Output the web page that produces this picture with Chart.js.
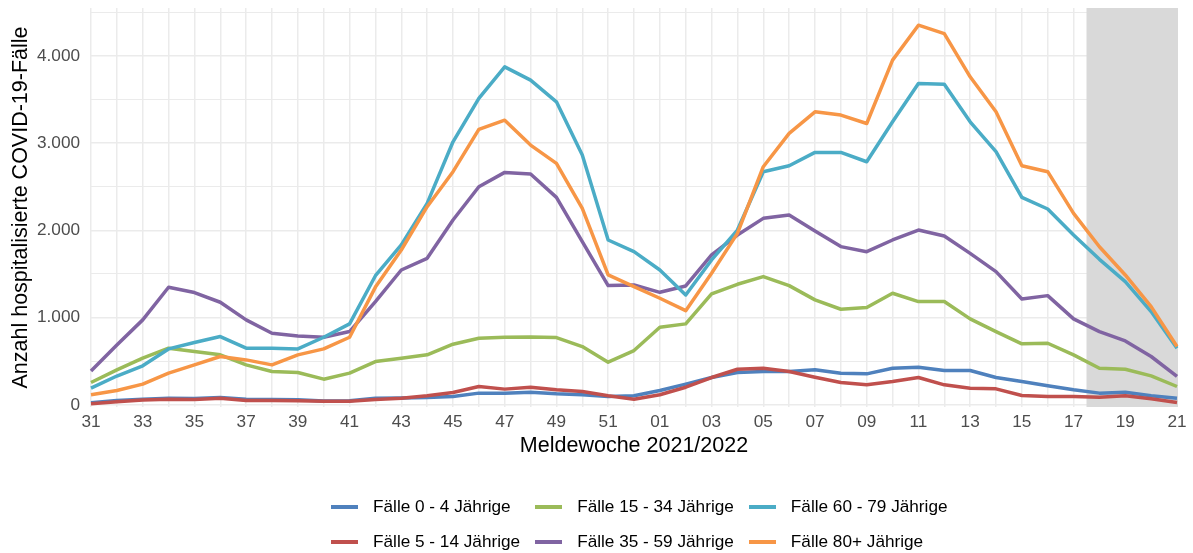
<!DOCTYPE html>
<html lang="de">
<head>
<meta charset="utf-8">
<script src="https://cdn.jsdelivr.net/npm/chart.js@4/dist/chart.umd.min.js"></script>
<style>
  html, body { margin: 0; padding: 0; background: #ffffff; }
  #wrap { position: relative; width: 1193px; height: 553px; overflow: hidden; }
  #c { position: absolute; left: 0; top: 0; }
  #legend {
    position: absolute; left: 331px; top: 489px;
    display: grid; grid-template-columns: auto auto auto; column-gap: 15px;
    font-family: "Liberation Sans", Arial, sans-serif; font-size: 17.2px; color: #000;
  }
  .item { display: flex; align-items: center; height: 35px; white-space: nowrap; }
  .sw { width: 27px; height: 4px; margin-right: 15px; flex: none; }
</style>
</head>
<body>
<div id="wrap">
  <canvas id="c" width="1193" height="553"></canvas>
  <div id="legend"></div>
</div>
<script>
// ---- data ----
const weeks = ['31','32','33','34','35','36','37','38','39','40','41','42','43','44','45','46','47','48','49','50','51','52',
               '01','02','03','04','05','06','07','08','09','10','11','12','13','14','15','16','17','18','19','20','21'];

const seriesNames = ['Fälle 0 - 4 Jährige','Fälle 5 - 14 Jährige','Fälle 15 - 34 Jährige',
                     'Fälle 35 - 59 Jährige','Fälle 60 - 79 Jährige','Fälle 80+ Jährige'];

const faelle0_4 = [25,50,65,75,72,85,65,60,58,45,48,75,78,84,95,134,134,145,126,115,95,103,
                   164,237,313,370,382,382,401,363,355,420,431,393,393,313,267,218,172,134,145,103,76];
const faelle5_14 = [12,35,55,65,62,75,50,50,48,40,42,60,76,103,141,210,180,202,172,153,103,65,
                    115,202,313,408,420,382,317,256,229,267,313,229,191,183,107,95,95,88,103,69,27];
const faelle15_34 = [256,400,535,649,611,573,458,382,370,294,363,496,535,573,695,764,775,779,771,668,489,622,
                     890,928,1271,1382,1470,1367,1203,1096,1115,1279,1184,1184,985,840,699,706,573,420,408,332,210];
const faelle35_59 = [389,687,974,1348,1287,1176,974,821,790,775,840,1184,1546,1680,2119,2501,2665,2646,2379,1871,1367,1374,
                     1290,1363,1718,1947,2138,2176,1993,1814,1756,1890,2004,1936,1737,1527,1214,1252,985,840,733,554,325];
const faelle60_79 = [191,330,447,641,714,783,649,649,641,775,928,1480,1833,2310,3016,3513,3875,3723,3474,2864,1890,1756,
                     1546,1260,1661,2004,2673,2741,2894,2894,2787,3245,3684,3677,3245,2902,2379,2245,1947,1668,1413,1069,649];
const faelle80 = [115,164,237,363,458,554,515,458,573,641,775,1350,1775,2272,2673,3158,3264,2978,2768,2253,1489,1355,
                  1222,1080,1508,1966,2730,3112,3360,3322,3226,3952,4353,4257,3761,3360,2741,2673,2195,1813,1489,1126,668];

const yTicks = [0,500,1000,1500,2000,2500,3000,3500,4000,4500];
const incompleteFromWeek = '17';   // shaded area begins after this week

const colors = ['#4F81BD','#C0504D','#9BBB59','#8064A2','#4BACC6','#F79646'];
const allSeries = [faelle0_4, faelle5_14, faelle15_34, faelle35_59, faelle60_79, faelle80];

// ---- chart ----
const FONT = '"Liberation Sans", Arial, sans-serif';
const fmt = v => v === 0 ? '0' : (v % 1000 === 0 ? (v / 1000) + '.000' : '');

const bandPlugin = {
  id: 'band',
  beforeDatasetsDraw(chart) {
    const { ctx, chartArea: a, scales: { x } } = chart;
    const x0 = x.getPixelForValue(weeks.indexOf(incompleteFromWeek) + 0.5);
    ctx.save();
    ctx.fillStyle = '#d9d9d9';
    ctx.fillRect(x0, a.top, a.right + 1 - x0, a.bottom - a.top);
    ctx.restore();
  }
};

const datasets = allSeries.map((d, i) => ({
  label: seriesNames[i],
  data: d,
  borderColor: colors[i],
  backgroundColor: colors[i],
  borderWidth: 3.5,
  pointRadius: 0,
  tension: 0,
  borderJoinStyle: 'round',
  order: allSeries.length - i
}));

const chart = new Chart(document.getElementById('c'), {
  type: 'line',
  data: { labels: weeks, datasets },
  plugins: [bandPlugin],
  options: {
    responsive: false,
    animation: false,
    layout: { padding: { top: 8, right: 16, bottom: 94, left: 0 } },
    plugins: { legend: { display: false }, tooltip: { enabled: false } },
    scales: {
      x: {
        grid: { color: '#ebebeb', lineWidth: 1.5, drawTicks: true, tickLength: 5, tickColor: 'rgba(0,0,0,0)' },
        border: { display: false },
        ticks: {
          autoSkip: false, maxRotation: 0, minRotation: 0, padding: 0,
          color: '#4d4d4d', font: { family: FONT, size: 17.2 },
          callback: (v, i) => (i % 2 === 0 ? weeks[i] : '')
        },
        title: { display: true, text: 'Meldewoche 2021/2022', color: '#000',
                 font: { family: FONT, size: 21.5 }, padding: { top: 0, bottom: 0 } },
        afterFit: s => { s.height = 52; }
      },
      y: {
        min: -25, max: 4550,
        afterBuildTicks: s => { s.ticks = yTicks.map(v => ({ value: v })); },
        grid: {
          color: '#ebebeb', drawTicks: true, tickLength: 11, tickColor: 'rgba(0,0,0,0)',
          lineWidth: ctx => (ctx.tick && ctx.tick.value % 1000 === 0 ? 1.6 : 1.1)
        },
        border: { display: false },
        ticks: {
          padding: 0, color: '#4d4d4d',
          font: { family: FONT, size: 17.2, lineHeight: 0.9 },
          callback: v => fmt(v)
        },
        title: { display: true, text: 'Anzahl hospitalisierte COVID-19-Fälle', color: '#000',
                 font: { family: FONT, size: 21.5 }, padding: { top: 8, bottom: 0 } },
        afterFit: s => { s.width = 91; }
      }
    }
  }
});

// ---- legend (column-wise like the original) ----
const legendOrder = [0, 2, 4, 1, 3, 5];
const leg = document.getElementById('legend');
legendOrder.forEach(i => {
  const it = document.createElement('div');
  it.className = 'item';
  const sw = document.createElement('span');
  sw.className = 'sw';
  sw.style.background = colors[i];
  const tx = document.createElement('span');
  tx.textContent = seriesNames[i];
  it.appendChild(sw); it.appendChild(tx);
  leg.appendChild(it);
});
</script>
</body>
</html>
